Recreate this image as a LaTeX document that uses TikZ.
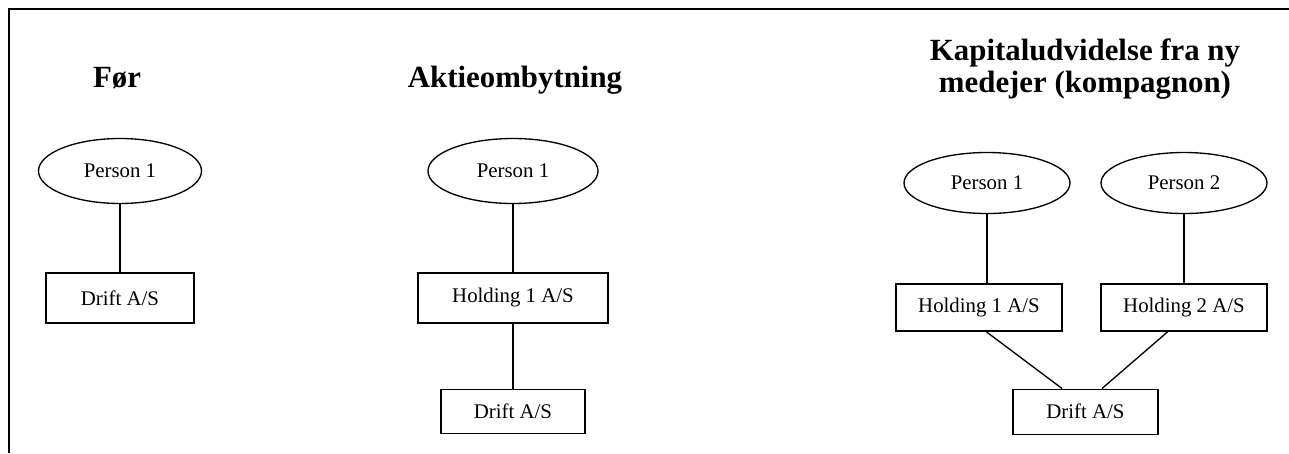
\documentclass[tikz,border=0pt]{standalone}
\usepackage{fontspec}
\setmainfont{Liberation Serif}
\usetikzlibrary{shapes.geometric, positioning, calc}
\tikzstyle{owner} = [ellipse, draw=black, line width=0.8pt, inner sep=0pt, font=\fontsize{12.5}{15}\selectfont]
\tikzstyle{company} = [rectangle, draw=black, line width=0.8pt, inner sep=0pt, font=\fontsize{12.5}{15}\selectfont]
\tikzstyle{heading} = [font=\fontsize{18.5}{19.2}\selectfont\bfseries, align=center]
\tikzstyle{link} = [line width=0.8pt]
\tikzstyle{frame} = [line width=1.2pt]

\begin{document}
\begin{tikzpicture}[x=0.6pt, y=-0.6pt]

    \useasboundingbox (0,0) rectangle (1289,453);

    % frame
    \coordinate (topright) at (1289,9);
    \coordinate (corner) at (9,9);
    \coordinate (bottomleft) at (9,453);
    \draw [frame] (topright) -- (corner) -- (bottomleft);

    % Foer
    \node (title1) [heading, anchor=base] at (117,87) {Før};
    \node (pers1) [owner, minimum width=97.8pt, minimum height=39pt] at (120,171) {Person 1};
    \node (drift1) [company, minimum width=88.8pt, minimum height=30pt, below=40.8pt of pers1] {Drift A/S};

    % Aktieombytning
    \node (title2) [heading, anchor=base] at (515,87) {Aktieombytning};
    \node (pers2) [owner, minimum width=102pt, minimum height=39pt] at (513,171) {Person 1};
    \node (hold2) [company, minimum width=114pt, minimum height=30pt, below=40.8pt of pers2] {Holding 1 A/S};
    \node (drift2) [company, minimum width=86.4pt, minimum height=26.4pt, below=39pt of hold2] {Drift A/S};

    % Kapitaludvidelse
    \node (title3) [heading] at (1085,69) {Kapitaludvidelse fra ny\\medejer (kompagnon)};
    \node (pers3a) [owner, minimum width=99.6pt, minimum height=36.6pt] at (987,183) {Person 1};
    \node (pers3b) [owner, minimum width=99.6pt, minimum height=36.6pt] at (1184,183) {Person 2};
    \node (hold3a) [company, minimum width=99.6pt, minimum height=28.2pt, below=41.4pt of pers3a, xshift=-4.8pt] {Holding 1 A/S};
    \node (hold3b) [company, minimum width=99.6pt, minimum height=28.2pt, below=41.4pt of pers3b] {Holding 2 A/S};
    \coordinate (mid3) at ($(hold3a.south)!0.5!(hold3b.south)$);
    \node (drift3) [company, minimum width=87pt, minimum height=27pt, below=34.2pt of mid3, xshift=2.4pt] {Drift A/S};

    \draw [link] (pers1) -- (drift1);
    \draw [link] (pers2) -- (hold2);
    \draw [link] (hold2) -- (drift2);
    \draw [link] (pers3a.south) -- (pers3a.south |- hold3a.north);
    \draw [link] (pers3b) -- (hold3b);
    \draw [link] ([xshift=4.2pt]hold3a.south) -- ([xshift=-14.1pt]drift3.north);
    \draw [link] ([xshift=-9.6pt]hold3b.south) -- ([xshift=9.9pt]drift3.north);

    \end{tikzpicture}
\end{document}
